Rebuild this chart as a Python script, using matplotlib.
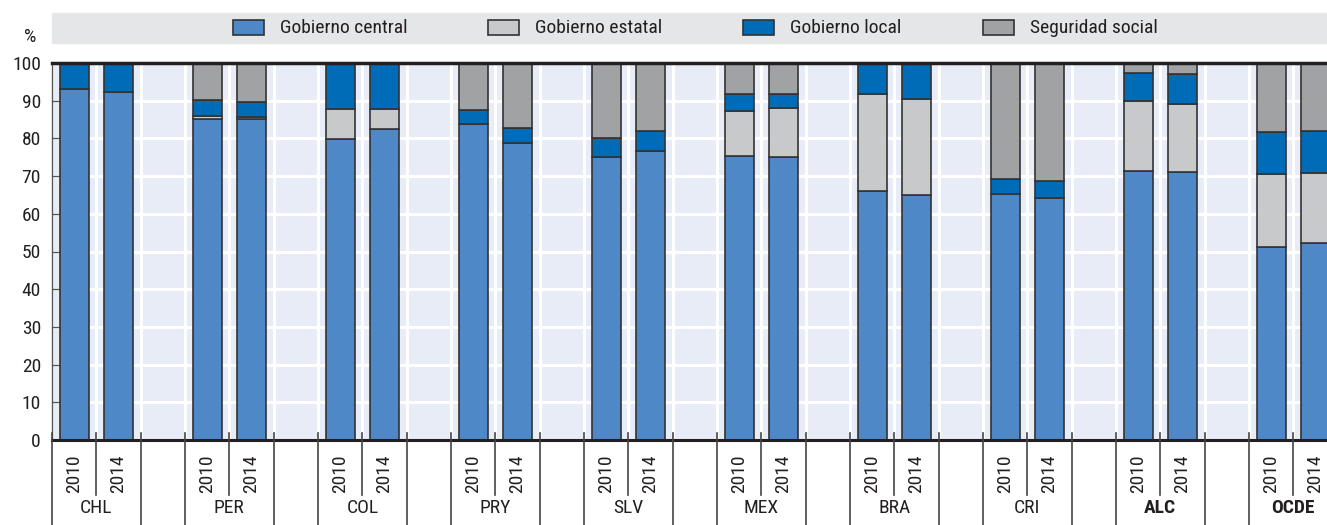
import numpy as np
import matplotlib
matplotlib.use("Agg")
import matplotlib.pyplot as plt
from matplotlib.patches import Rectangle

plt.rcParams['font.family'] = ['Roboto Condensed', 'DejaVu Sans']

countries = ["CHL", "PER", "COL", "PRY", "SLV", "MEX", "BRA", "CRI", "ALC", "OCDE"]
years = ["2010", "2014"]

# shares (%) per country, [2010, 2014]
central = [[93.0, 92.4], [85.1, 85.2], [79.9, 82.5], [83.8, 78.8], [75.1, 76.7],
           [75.4, 75.0], [66.1, 64.9], [65.3, 64.3], [71.3, 71.0], [51.3, 52.3]]
estatal = [[0, 0], [0.9, 0.5], [7.8, 5.2], [0, 0], [0, 0],
           [12.0, 13.1], [25.6, 25.5], [0, 0], [18.6, 18.2], [19.3, 18.6]]
local = [[7.0, 7.6], [4.2, 3.9], [12.3, 12.3], [3.7, 4.0], [5.1, 5.3],
         [4.5, 3.8], [8.3, 9.6], [3.9, 4.4], [7.5, 8.0], [11.2, 11.1]]
seguridad = [[0, 0], [9.8, 10.4], [0, 0], [12.5, 17.2], [19.8, 18.0],
             [8.1, 8.1], [0, 0], [30.8, 31.3], [2.6, 2.8], [18.2, 18.0]]

series = [("Gobierno central", central, "#4f88c6"),
          ("Gobierno estatal", estatal, "#c8c9cb"),
          ("Gobierno local", local, "#006bb6"),
          ("Seguridad social", seguridad, "#a0a2a4")]

W, H = 1327, 525
fig = plt.figure(figsize=(W / 100, H / 100), dpi=100)
ax_l, ax_b, ax_t = 52 / W, 1 - 440 / H, 1 - 63 / H
ax = fig.add_axes([ax_l, ax_b, 1 - ax_l, ax_t - ax_b])
ax.set_facecolor("#e8ecf6")

pos = []
for k in range(len(countries)):
    pos += [3 * k + 0.5, 3 * k + 1.5]
pos = np.array(pos)

bottom = np.zeros(len(pos))
for name, vals, col in series:
    v = np.array(vals).ravel()
    ax.bar(pos, v, 0.65, bottom=bottom, color=col, edgecolor="#333333",
           linewidth=1.2, zorder=3)
    bottom += v

ax.set_xlim(0, 28.76)
ax.set_ylim(0, 100)
ax.set_yticks(np.arange(0, 101, 10))
ax.set_xticks([])
for x in range(0, 30):
    ax.axvline(x, color="white", lw=2.2, zorder=1)
for y in range(10, 100, 10):
    ax.axhline(y, color="white", lw=2.2, zorder=1)
ax.axhline(100, color="#231f20", lw=2.5, zorder=4, clip_on=False)

for s in ["top", "right"]:
    ax.spines[s].set_visible(False)
ax.spines["bottom"].set_linewidth(2.2)
ax.spines["bottom"].set_color("#231f20")
ax.spines["bottom"].set_zorder(5)
ax.spines["left"].set_linewidth(1)
ax.spines["left"].set_color("#555555")
ax.tick_params(axis="y", direction="in", length=7, width=1, color="#555555",
               labelsize=14, labelcolor="#231f20", pad=8)

# category table under the axis
px = 1 / 377.0
trans = ax.get_xaxis_transform()
for k in range(len(countries)):
    x0 = 3 * k
    for xb in (x0, x0 + 2):
        ax.plot([xb, xb], [7 * px, -85 * px], color="#444444", lw=1.2,
                transform=trans, clip_on=False, zorder=6)
    ax.plot([x0 + 1, x0 + 1], [7 * px, -55 * px], color="#444444", lw=1.2,
            transform=trans, clip_on=False, zorder=6)
    for j, yr in enumerate(years):
        ax.text(x0 + 0.5 + j, -34 * px, yr, rotation=90, ha="center", va="center",
                fontsize=14, color="#231f20", transform=trans)
    bold = countries[k] in ("ALC", "OCDE")
    ax.text(x0 + 1, -68 * px, countries[k], ha="center", va="center",
            fontsize=14, color="#231f20", transform=trans,
            fontweight="bold" if bold else "normal")

fig.text(30 / W, 1 - 37 / H, "%", ha="center", va="center", fontsize=14,
         color="#231f20")

# legend band
fig.patches.append(Rectangle((52 / W, 1 - 43 / H), 1 - 52 / W, 30 / H,
                             transform=fig.transFigure, color="#e5e6e7", zorder=0))
leg_x = [233, 488, 743, 983]
for (name, vals, col), lx in zip(series, leg_x):
    fig.patches.append(Rectangle((lx / W, 1 - 35 / H), 31 / W, 15 / H,
                                 transform=fig.transFigure, facecolor=col,
                                 edgecolor="#333333", lw=1.2, zorder=1))
    fig.text((lx + 47) / W, 1 - 28 / H, name, ha="left", va="center",
             fontsize=14, color="#231f20")

fig.savefig("out.png", dpi=100)
